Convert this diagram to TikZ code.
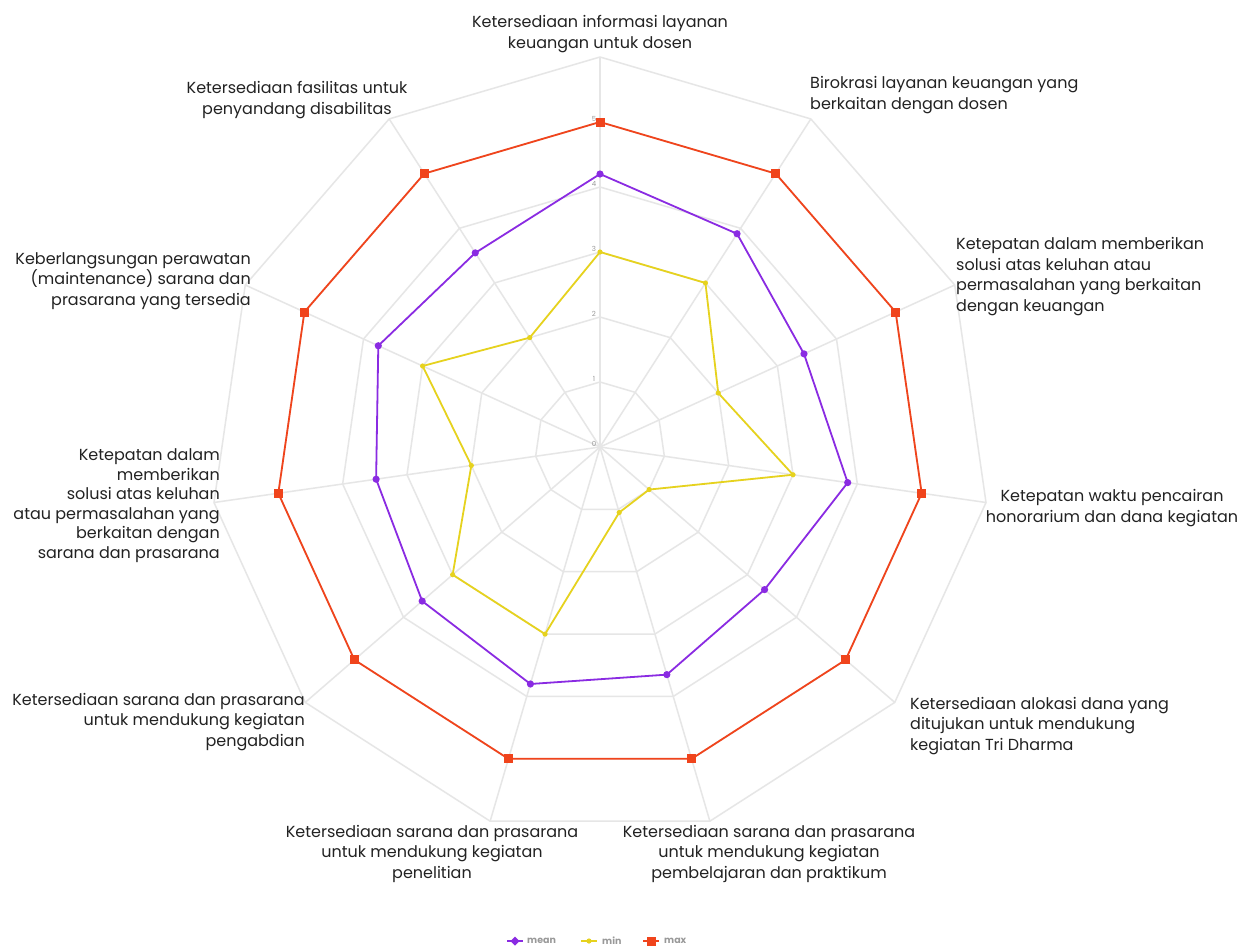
\documentclass[tikz,border=0pt]{standalone}
\usepackage{fontspec}
\setmainfont{Poppins}
\definecolor{gridc}{HTML}{E6E6E6}
\definecolor{meanc}{HTML}{8A2BE2}
\definecolor{minc}{HTML}{E6D21E}
\definecolor{maxc}{HTML}{F0441C}
\definecolor{lblc}{HTML}{222222}
\definecolor{scalec}{HTML}{999999}
\begin{document}
\begin{tikzpicture}[x=1pt,y=-1pt,
  gridline/.style={draw=gridc,line width=1.5pt,line join=round},
  seriesline/.style={line width=1.8pt,line join=round},
  axislbl/.style={text=lblc,font=\fontsize{16}{20.5}\selectfont,inner sep=0pt},
  scalelbl/.style={text=scalec,font=\fontsize{7}{8}\selectfont,inner sep=0pt},
  legendlbl/.style={text=scalec,font=\fontsize{9.5}{10}\selectfont\bfseries,inner sep=0pt,anchor=west}]
\useasboundingbox (0,0) rectangle (1255,948);
\fill[white] (0,0) rectangle (1255,948);
\coordinate (O) at (600,447);
% spoke ends
\foreach \i in {0,...,10}{
  \coordinate (e\i) at ({600+390*cos(\i*360/11-90)},{447+390*sin(\i*360/11-90)});
  \draw[gridline] (O) -- (e\i);
}
% grid polygons
\foreach \k in {1,...,6}{
  \draw[gridline] plot[samples at={0,...,10}] ({600+65*\k*cos(\x*360/11-90)},{447+65*\k*sin(\x*360/11-90)}) -- cycle;
}
% scale labels
\foreach \k in {0,...,5}{
  \node[scalelbl] (s\k) at (594,{447-65*\k-3}) {\k};
}
% data coordinates
\foreach \i/\v in {0/4.2,1/3.9,2/3.45,3/3.85,4/3.35,5/3.65,6/3.8,7/3.62,8/3.48,9/3.75,10/3.55}{
  \coordinate (m\i) at ({600+65*\v*cos(\i*360/11-90)},{447+65*\v*sin(\i*360/11-90)});
}
\foreach \i/\v in {0/3,1/3,2/2,3/3,4/1,5/1.05,6/3,7/3,8/2,9/3,10/2}{
  \coordinate (n\i) at ({600+65*\v*cos(\i*360/11-90)},{447+65*\v*sin(\i*360/11-90)});
}
\foreach \i in {0,...,10}{
  \coordinate (x\i) at ({600+65*5*cos(\i*360/11-90)},{447+65*5*sin(\i*360/11-90)});
}
% series
\draw[seriesline,draw=minc] (n0)--(n1)--(n2)--(n3)--(n4)--(n5)--(n6)--(n7)--(n8)--(n9)--(n10)--cycle;
\draw[seriesline,draw=meanc] (m0)--(m1)--(m2)--(m3)--(m4)--(m5)--(m6)--(m7)--(m8)--(m9)--(m10)--cycle;
\draw[seriesline,draw=maxc] (x0)--(x1)--(x2)--(x3)--(x4)--(x5)--(x6)--(x7)--(x8)--(x9)--(x10)--cycle;
\foreach \i in {0,...,10}{
  \fill[minc] (n\i) circle[radius=2.6pt];
  \fill[meanc] (m\i) circle[radius=3.6pt];
  \fill[maxc] (x\i) ++(-4.5pt,-4.5pt) rectangle ++(9pt,9pt);
}
% axis labels (anchor = baseline of last line)
\node[axislbl,align=center,anchor=base] (l0) at (600,48) {Ketersediaan informasi layanan\\keuangan untuk dosen};
\node[axislbl,align=left,anchor=base west] (l1) at (810,109) {Birokrasi layanan keuangan yang\\berkaitan dengan dosen};
\node[axislbl,align=left,anchor=base west] (l2) at (956,311) {Ketepatan dalam memberikan\\solusi atas keluhan atau\\permasalahan yang berkaitan\\dengan keuangan};
\node[axislbl,align=center,anchor=base] (l3) at (1112,522) {Ketepatan waktu pencairan\\honorarium dan dana kegiatan};
\node[axislbl,align=left,anchor=base west] (l4) at (910,750) {Ketersediaan alokasi dana yang\\ditujukan untuk mendukung\\kegiatan Tri Dharma};
\node[axislbl,align=center,anchor=base] (l5) at (769,878) {Ketersediaan sarana dan prasarana\\untuk mendukung kegiatan\\pembelajaran dan praktikum};
\node[axislbl,align=center,anchor=base] (l6) at (432,878) {Ketersediaan sarana dan prasarana\\untuk mendukung kegiatan\\penelitian};
\node[axislbl,align=right,anchor=base east] (l7) at (305,746) {Ketersediaan sarana dan prasarana\\untuk mendukung kegiatan\\pengabdian};
\node[axislbl,align=right,anchor=base east,font=\fontsize{16}{19.5}\selectfont] (l8) at (220,558) {Ketepatan dalam\\memberikan\\solusi atas keluhan\\atau permasalahan yang\\berkaitan dengan\\sarana dan prasarana};
\node[axislbl,align=right,anchor=base east] (l9) at (251,305) {Keberlangsungan perawatan\\(maintenance) sarana dan\\prasarana yang tersedia};
\node[axislbl,align=center,anchor=base] (l10) at (297,114) {Ketersediaan fasilitas untuk\\penyandang disabilitas};
% legend
\coordinate (ga) at (507,941); \coordinate (gb) at (523,941);
\draw[line width=1.8pt,meanc] (ga) -- (gb);
\fill[meanc] (515,936.5) -- (519.5,941) -- (515,945.5) -- (510.5,941) -- cycle;
\node[legendlbl] (t1) at (527,941) {mean};
\coordinate (gc) at (581,941); \coordinate (gd) at (597,941);
\draw[line width=1.8pt,minc] (gc) -- (gd);
\fill[minc] (589,941) circle[radius=2.6pt];
\node[legendlbl] (t2) at (602,941) {min};
\coordinate (ge) at (643,941); \coordinate (gf) at (659,941);
\draw[line width=1.8pt,maxc] (ge) -- (gf);
\fill[maxc] (646.5,936.5) rectangle (655.5,945.5);
\node[legendlbl] (t3) at (664,941) {max};
\end{tikzpicture}
\end{document}
